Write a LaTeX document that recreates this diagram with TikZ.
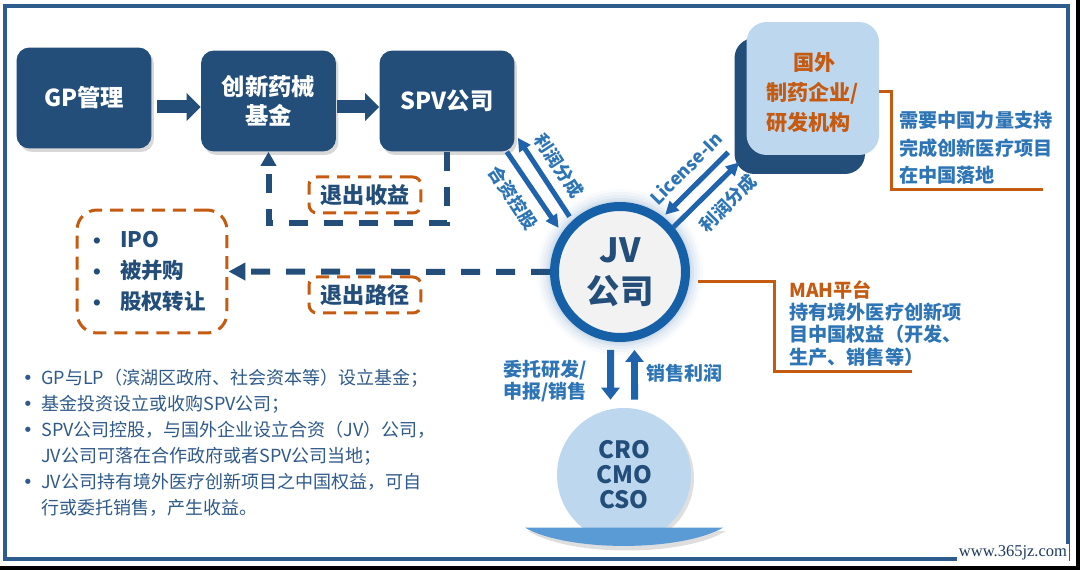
\documentclass[tikz,border=0pt]{standalone}
\usepackage{fontspec}
\setmainfont{Noto Sans CJK SC}
\newfontfamily\wmfont{Liberation Serif}
\newfontfamily\symfont{DejaVu Sans}
\usetikzlibrary{arrows.meta,shadows,calc}
\definecolor{navy}{HTML}{234E7A}
\definecolor{ringblue}{HTML}{1660A8}
\definecolor{arrowblue}{HTML}{1E63AB}
\definecolor{lblblue}{HTML}{2E75B6}
\definecolor{orng}{HTML}{C55A11}
\definecolor{lightblue}{HTML}{BDD7EE}
\definecolor{bowlblue}{HTML}{5B9BD5}
\definecolor{jvfill}{HTML}{F2F2F2}
\definecolor{bodyblue}{HTML}{2F5A8A}
\definecolor{framecol}{HTML}{2E5C8C}
\definecolor{wmcol}{HTML}{1F3A60}
\newcommand\mybul{\makebox[0.22cm][c]{\symfont •}\hspace{0.16cm}}
\newcommand\optbul{\makebox[0.28cm][c]{\symfont\fontsize{10}{10}\selectfont •}\hspace{0.32cm}}
\begin{document}
\begin{tikzpicture}[x=0.02cm,y=-0.02cm,
  navybox/.style={rectangle, rounded corners=0.26cm, fill=navy, text=white,
    font=\bfseries\fontsize{13.3}{16.5}\selectfont, align=center,
    minimum width=2.7cm, minimum height=2.02cm,
    drop shadow={shadow xshift=0.05cm, shadow yshift=-0.07cm, opacity=0.3}},
  blockarrow/.style={navy, line width=0.26cm, -{Triangle[width=0.54cm,length=0.28cm]}},
  dashline/.style={navy, line width=0.12cm, dash pattern=on 0.38cm off 0.32cm},
  orangebox/.style={draw=orng, line width=0.06cm, dash pattern=on 0.26cm off 0.16cm},
  orangeline/.style={draw=orng, line width=0.06cm},
  thinarrow/.style={arrowblue, line width=0.1cm, -{Triangle[width=0.26cm,length=0.26cm]}},
  vertarrow/.style={arrowblue, line width=0.14cm, -{Triangle[width=0.36cm,length=0.24cm]}},
  arrowlbl/.style={text=lblblue, font=\bfseries\fontsize{10.2}{12}\selectfont, inner sep=0},
  bluetext/.style={text=lblblue, inner sep=0, align=left}
]
\useasboundingbox (0,0) rectangle (1080,570);
\fill[white] (0,0) rectangle (1080,570);

% frame
\draw[framecol, line width=0.07cm] (5,6) rectangle (1068,559);
\fill[black] (1076,0) rectangle (1080,570);
\fill[black] (0,566) rectangle (1080,570);

% top row boxes
\node[navybox] (gp) at (84,98) {GP管理};
\node[navybox] (fund) at (268.5,101) {创新药械\\基金};
\node[navybox] (spv) at (447,101) {SPV公司};
\coordinate (arow) at (0,107);
\draw[blockarrow, shorten <=0.1cm] (gp.east |- arow) -- (fund.west |- arow);
\draw[blockarrow, shorten <=0.02cm] (fund.east |- arow) -- (spv.west |- arow);

% exit gain loop
\coordinate (loopy) at (0,223);
\draw[dashline, -{Triangle[width=0.3cm,length=0.28cm]}] (spv.south) -- (spv.south |- loopy) -| (fund.south);
\node[orangebox, rounded corners=0.16cm, minimum width=2.24cm, minimum height=0.72cm,
  text=navy, font=\bfseries\fontsize{12.6}{14}\selectfont] (exitgain) at (365,195) {退出收益};

% options box
\node[orangebox, rounded corners=0.4cm, minimum width=3cm, minimum height=2.46cm,
  text width=2.48cm, align=left, text=navy, font=\bfseries\fontsize{12.2}{17.9}\selectfont]
  (opts) at (152,271.5) {\optbul IPO\\\optbul 被并购\\\optbul 股权转让};

% foreign company box
\node[rectangle, rounded corners=0.4cm, fill=navy, minimum width=2.61cm, minimum height=2.72cm] (fshadow) at (799.75,106) {};
\node[rectangle, rounded corners=0.4cm, fill=lightblue, minimum width=2.65cm, minimum height=2.66cm] (foreign) at (812.8,88.5) {};
\node[text=orng, font=\bfseries\fontsize{12}{17}\selectfont, align=left, inner sep=0] (foreigntxt) at ([yshift=-0.08cm]foreign.center)
  {\hspace*{1.27em}国外\\制药企业/\\研发机构};
\coordinate (needend) at (1043,190);
\draw[orangeline] ([yshift=-0.07cm]foreign.east) -- ([shift={(0.24cm,-0.07cm)}]foreign.east) |- (needend);
\node[bluetext, anchor=west, font=\bfseries\fontsize{10.9}{15.6}\selectfont] (needtxt) at (899,148)
  {需要中国力量支持\\完成创新医疗项目\\在中国落地};

% JV glow and circle
\foreach \r/\op in {1.66/0.04,1.6/0.06,1.54/0.08,1.48/0.11,1.43/0.14}
  \fill[ringblue!60!white, opacity=\op] (620,272) circle[radius=\r cm];
\node[circle, draw=ringblue, line width=0.18cm, fill=jvfill, minimum size=2.62cm,
  text=navy, font=\bfseries\fontsize{19}{23.5}\selectfont, align=center] (jv) at (620,272) {JV\\公司};

% exit path
\draw[dashline, -{Triangle[width=0.34cm,length=0.34cm]}] (jv.west) -- (opts.east);
\node[orangebox, rounded corners=0.16cm, minimum width=2.24cm, minimum height=0.72cm,
  text=navy, font=\bfseries\fontsize{12.6}{14}\selectfont] (exitpath) at (365,295) {退出路径};

% SPV <-> JV arrows
\draw[thinarrow, shorten <=0.1cm] (jv.133) -- ([shift={(0.06cm,0.28cm)}]spv.south east);
\draw[thinarrow, shorten >=0.12cm] ([xshift=-0.16cm]spv.south east) -- (jv.146);
\node[arrowlbl, rotate=-57] (l1) at (559,166) {利润分成};
\node[arrowlbl, rotate=-57] (l2) at (513,198) {合资控股};

% foreign <-> JV arrows
\draw[thinarrow, shorten >=0.06cm] ([shift={(-0.12cm,0.44cm)}]fshadow.south west) -- (jv.52);
\draw[thinarrow] (jv.40) -- ([shift={(0.1cm,0.24cm)}]fshadow.south west);
\node[arrowlbl, rotate=45] (l3) at (686,168) {License-In};
\node[arrowlbl, rotate=45] (l4) at (728,203) {利润分成};

% MAH
\coordinate (mahend) at (912,372);
\draw[orangeline] ([shift={(0.16cm,-0.2cm)}]jv.east) -- ([shift={(1.7cm,-0.2cm)}]jv.east) |- (mahend);
\node[bluetext, anchor=west, font=\bfseries\fontsize{10.9}{12.65}\selectfont] (mahtxt) at (789,323.5)
  {\textcolor{orng}{MAH平台}\\持有境外医疗创新项\\目中国权益（开发、\\生产、销售等）};

% CRO circle
\node[circle, fill=lightblue, minimum size=2.68cm, text=navy, align=center,
  font=\bfseries\fontsize{13.6}{14.2}\selectfont,
  drop shadow={shadow xshift=0.06cm, shadow yshift=-0.06cm, opacity=0.25}] (cro) at (624,475) {CRO\\CMO\\CSO};
\fill[black, opacity=0.13] (528,531) -- (726,531) .. controls (683,557) and (571,557) .. (528,531) -- cycle;
\fill[bowlblue] (525,527.7) -- (723,527.7) .. controls (680,552) and (568,552) .. (525,527.7) -- cycle;

\draw[vertarrow, shorten <=0.16cm, shorten >=0.16cm] ([xshift=-0.19cm]jv.south) -- ([xshift=-0.27cm]cro.north);
\draw[vertarrow, shorten <=0.16cm, shorten >=0.16cm] ([xshift=0.21cm]cro.north) -- ([xshift=0.29cm]jv.south);
\node[bluetext, anchor=east, align=right, font=\bfseries\fontsize{10.8}{13}\selectfont] (entrust) at (587,381) {委托研发/\\申报/销售};
\node[bluetext, anchor=west, font=\bfseries\fontsize{10.8}{13}\selectfont] (salesprofit) at (646,373) {销售利润};

% notes
\node[anchor=west, align=left, inner sep=0, text=bodyblue, font=\fontsize{10.25}{14.74}\selectfont] (notes) at (22,443)
  {\mybul GP与LP（滨湖区政府、社会资本等）设立基金；\\
   \mybul 基金投资设立或收购SPV公司；\\
   \mybul SPV公司控股，与国外企业设立合资（JV）公司，\\
   \hspace*{0.38cm}JV公司可落在合作政府或者SPV公司当地；\\
   \mybul JV公司持有境外医疗创新项目之中国权益，可自\\
   \hspace*{0.38cm}行或委托销售，产生收益。};

% watermark
\node[fill=white, inner sep=1pt, text=wmcol, font=\wmfont\fontsize{9.4}{10}\selectfont] (wm) at (1013,553) {www.365jz.com};
\end{tikzpicture}
\end{document}
